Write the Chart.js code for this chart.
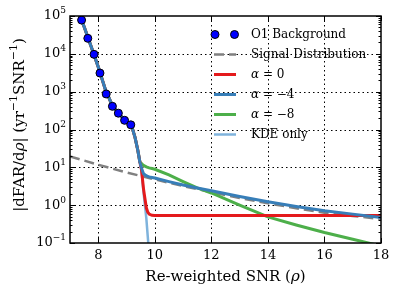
<!DOCTYPE html>
<html>
<head>
<meta charset="utf-8">
<script src="https://cdn.jsdelivr.net/npm/chart.js@4.4.2/dist/chart.umd.min.js"></script>
<style>
  html, body { margin: 0; padding: 0; background: #fff; }
  canvas { display: block; }
</style>
</head>
<body>
<canvas id="farChart" width="398" height="296"></canvas>
<script>
// O1 background points
const rhoBg = [7.41, 7.63, 7.85, 8.06, 8.28, 8.50, 8.71, 8.93, 9.15];
const farBg = [78000, 25700, 9700, 3100, 870, 410, 270, 175, 133];

// signal distribution (dashed)
const rhoSignal = [7, 8, 9, 10, 11, 12, 13, 14, 15, 16, 17, 18];
const farSignal = [19.5, 11.7, 7.3, 4.8, 3.2, 2.2, 1.55, 1.12, 0.83, 0.63, 0.52, 0.43];

// fitted curves, shared rho grid
const rhoFit = [7.3, 7.5, 7.75, 8, 8.25, 8.5, 8.75, 9, 9.2, 9.3, 9.4, 9.47, 9.53, 9.6, 9.65,
  9.7, 9.75, 9.8, 9.9, 10, 10.5, 11, 11.5, 12, 13, 14, 15, 16, 17, 18];
const farAlpha0 = [125000, 52000, 15500, 4500, 1150, 420, 250, 160, 110, 62, 28, 14, 8.5, 2.7, 1.5,
  0.85, 0.66, 0.58, 0.54, 0.53, 0.53, 0.53, 0.53, 0.53, 0.53, 0.53, 0.53, 0.53, 0.53, 0.53];
const farAlpha4 = [125000, 52000, 15500, 4500, 1150, 420, 250, 160, 110, 62, 28, 14, 9.5, 6.8, 6.3,
  6.0, 5.8, 5.6, 5.4, 5.2, 4.2, 3.4, 2.85, 2.4, 1.7, 1.23, 0.92, 0.71, 0.58, 0.47];
const farAlpha8 = [125000, 52000, 15500, 4500, 1150, 420, 250, 160, 110, 62, 28, 14, 12.6, 11.2, 10.8,
  10.3, 10.0, 9.7, 9.3, 8.9, 6.3, 4.2, 2.85, 2.1, 1.0, 0.49, 0.3, 0.19, 0.126, 0.083];
const farKde = [125000, 52000, 15500, 4500, 1150, 420, 250, 160, 110, 62, 28, 14, 8, 2.2, 1.0,
  0.45, 0.15, 0.05, null, null, null, null, null, null, null, null, null, null, null, null];

const xTicks = [8, 10, 12, 14, 16, 18];
const xGrid = [8, 10, 12, 14, 16];
const yExponents = [-1, 0, 1, 2, 3, 4, 5];

const SERIF = '"DejaVu Serif", "Liberation Serif", serif';

const zip = (xs, ys) => xs.map((x, i) => ({ x: x, y: ys[i] }));

const datasets = [
  {
    label: 'O1 Background',
    data: zip(rhoBg, farBg),
    showLine: false,
    pointRadius: 4,
    pointBackgroundColor: '#0000ff',
    pointBorderColor: '#000000',
    pointBorderWidth: 1,
    order: 0
  },
  {
    label: 'Signal Distribution',
    data: zip(rhoSignal, farSignal),
    borderColor: '#808080',
    borderWidth: 2.5,
    borderDash: [10, 5],
    pointRadius: 0,
    order: 5
  },
  {
    label: 'α = 0',
    data: zip(rhoFit, farAlpha0),
    borderColor: '#e41a1c',
    borderWidth: 3,
    pointRadius: 0,
    order: 2
  },
  {
    label: 'α = −4',
    data: zip(rhoFit, farAlpha4),
    borderColor: '#377eb8',
    borderWidth: 3,
    pointRadius: 0,
    order: 1
  },
  {
    label: 'α = −8',
    data: zip(rhoFit, farAlpha8),
    borderColor: '#4daf4a',
    borderWidth: 3,
    pointRadius: 0,
    order: 3
  },
  {
    label: 'KDE only',
    data: zip(rhoFit, farKde),
    borderColor: '#7fb3dc',
    borderWidth: 2.5,
    pointRadius: 0,
    order: 4
  }
];

// draw a string made of [text, style] pieces; style: 'n' normal, 'i' italic, 's' superscript
const drawPieces = (ctx, pieces, x, y, size, align) => {
  const fontFor = st => (st === 'i' ? 'italic ' : '') + (st === 's' ? Math.round(size * 0.7) : size) + 'px ' + SERIF;
  let total = 0;
  pieces.forEach(([t, st]) => { ctx.font = fontFor(st); total += ctx.measureText(t).width; });
  let cx = align === 'right' ? x - total : align === 'center' ? x - total / 2 : x;
  ctx.textAlign = 'left';
  ctx.textBaseline = 'middle';
  pieces.forEach(([t, st]) => {
    ctx.font = fontFor(st);
    ctx.fillText(t, cx, st === 's' ? y - size * 0.38 : y);
    cx += ctx.measureText(t).width;
  });
};

const axesPlugin = {
  id: 'axesPlugin',
  beforeDatasetsDraw(chart) {
    const { ctx, chartArea: a, scales: { x, y } } = chart;
    ctx.save();
    ctx.strokeStyle = '#000';
    ctx.lineWidth = 1;
    ctx.setLineDash([1.5, 3]);
    xGrid.forEach(v => {
      const px = Math.round(x.getPixelForValue(v)) + 0.5;
      ctx.beginPath(); ctx.moveTo(px, a.top); ctx.lineTo(px, a.bottom); ctx.stroke();
    });
    yExponents.slice(1, -1).forEach(e => {
      const py = Math.round(y.getPixelForValue(Math.pow(10, e))) + 0.5;
      ctx.beginPath(); ctx.moveTo(a.left, py); ctx.lineTo(a.right, py); ctx.stroke();
    });
    ctx.restore();
  },
  afterDraw(chart) {
    const { ctx, chartArea: a, scales: { x, y } } = chart;
    ctx.save();
    ctx.strokeStyle = '#000';
    ctx.fillStyle = '#000';
    ctx.lineWidth = 1;
    // ticks
    const tick = (x0, y0, x1, y1) => { ctx.beginPath(); ctx.moveTo(x0, y0); ctx.lineTo(x1, y1); ctx.stroke(); };
    xTicks.forEach(v => {
      const px = Math.round(x.getPixelForValue(v)) + 0.5;
      tick(px, a.bottom, px, a.bottom - 5);
      tick(px, a.top, px, a.top + 5);
    });
    for (let e = -1; e <= 5; e++) {
      for (let m = 1; m <= 9; m++) {
        const v = m * Math.pow(10, e);
        if (v > 1e5) break;
        const py = Math.round(y.getPixelForValue(v)) + 0.5;
        const len = m === 1 ? 5 : 2.5;
        tick(a.left, py, a.left + len, py);
        tick(a.right, py, a.right - len, py);
      }
    }
    // frame
    ctx.lineWidth = 1.5;
    ctx.strokeRect(a.left, a.top, a.right - a.left, a.bottom - a.top);
    // tick labels
    xTicks.forEach(v => {
      drawPieces(ctx, [[String(v), 'n']], x.getPixelForValue(v), a.bottom + 13, 13, 'center');
    });
    yExponents.forEach(e => {
      const exp = e < 0 ? '−' + (-e) : String(e);
      drawPieces(ctx, [['10', 'n'], [exp, 's']], a.left - 4, y.getPixelForValue(Math.pow(10, e)), 13, 'right');
    });
    // axis titles
    drawPieces(ctx, [['Re-weighted SNR (', 'n'], ['ρ', 'i'], [')', 'n']], (a.left + a.right) / 2, 277, 15, 'center');
    ctx.save();
    ctx.translate(20, 125);
    ctx.rotate(-Math.PI / 2);
    drawPieces(ctx, [['|dFAR/d', 'n'], ['ρ', 'i'], ['| (yr', 'n'], ['−1', 's'], ['SNR', 'n'], ['−1', 's'], [')', 'n']], 0, 0, 15, 'center');
    ctx.restore();
    // legend
    chart.data.datasets.forEach((ds, i) => {
      const ly = 34.5 + i * 20;
      if (ds.showLine === false) {
        [215, 234.5].forEach(cx => {
          ctx.beginPath();
          ctx.arc(cx, ly, 4, 0, Math.PI * 2);
          ctx.fillStyle = ds.pointBackgroundColor;
          ctx.fill();
          ctx.lineWidth = 1;
          ctx.strokeStyle = '#000';
          ctx.stroke();
        });
      } else {
        ctx.beginPath();
        ctx.setLineDash(ds.borderDash || []);
        ctx.strokeStyle = ds.borderColor;
        ctx.lineWidth = ds.borderWidth;
        ctx.moveTo(214, ly);
        ctx.lineTo(236, ly);
        ctx.stroke();
        ctx.setLineDash([]);
      }
      ctx.fillStyle = '#000';
      const pieces = ds.label.startsWith('α') ? [['α', 'i'], [ds.label.slice(1), 'n']] : [[ds.label, 'n']];
      drawPieces(ctx, pieces, 251, ly, 12, 'left');
    });
    ctx.restore();
  }
};

new Chart(document.getElementById('farChart'), {
  type: 'line',
  data: { datasets: datasets },
  options: {
    responsive: false,
    animation: false,
    layout: { padding: { top: 16, right: 17, left: 0, bottom: 0 } },
    plugins: {
      legend: { display: false },
      tooltip: { enabled: false }
    },
    scales: {
      x: {
        type: 'linear',
        min: 7,
        max: 18,
        grid: { display: false },
        border: { display: false },
        ticks: { display: false },
        afterFit: scale => { scale.height = 53; }
      },
      y: {
        type: 'logarithmic',
        min: 0.1,
        max: 100000,
        grid: { display: false },
        border: { display: false },
        ticks: { display: false },
        afterFit: scale => { scale.width = 70; }
      }
    }
  },
  plugins: [axesPlugin]
});
</script>
</body>
</html>
